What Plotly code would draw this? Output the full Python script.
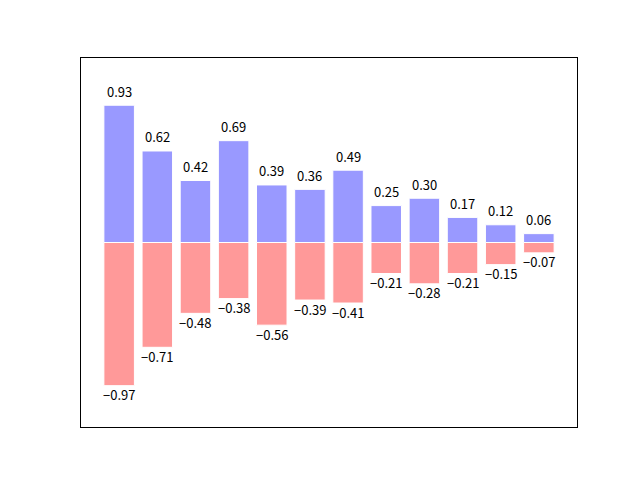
import plotly.graph_objects as go

x = list(range(12))
Y1 = [0.93, 0.62, 0.42, 0.69, 0.39, 0.36, 0.49, 0.25, 0.30, 0.17, 0.12, 0.06]
Y2 = [0.97, 0.71, 0.48, 0.38, 0.56, 0.39, 0.41, 0.21, 0.28, 0.21, 0.15, 0.07]

fig = go.Figure()
fig.add_trace(go.Bar(x=x, y=Y1, width=0.8, marker=dict(color="#9999ff", line=dict(color="white", width=1))))
fig.add_trace(go.Bar(x=x, y=[-v for v in Y2], width=0.8, marker=dict(color="#ff9999", line=dict(color="white", width=1))))

font = dict(family="Noto Sans CJK SC, DejaVu Sans", size=13, color="black")
for xi, v in zip(x, Y1):
    fig.add_annotation(x=xi, y=v, yshift=14, text="%.2f" % v, showarrow=False, yanchor="middle", xanchor="center", font=font)
for xi, v in zip(x, Y2):
    fig.add_annotation(x=xi, y=-v, yshift=-9, text="\u2212%.2f" % v, showarrow=False, yanchor="middle", xanchor="center", font=font)

fig.update_layout(
    width=640, height=480, barmode="overlay", showlegend=False,
    paper_bgcolor="white", plot_bgcolor="white",
    margin=dict(l=73, r=71, t=50, b=61),
    xaxis=dict(range=[-1, 12], showticklabels=False, ticks="", showgrid=False, zeroline=False,
               showline=True, linecolor="black", linewidth=1, mirror=True),
    yaxis=dict(range=[-1.25, 1.25], showticklabels=False, ticks="", showgrid=False, zeroline=False,
               showline=True, linecolor="black", linewidth=1, mirror=True),
)
fig.write_html("out.html")
